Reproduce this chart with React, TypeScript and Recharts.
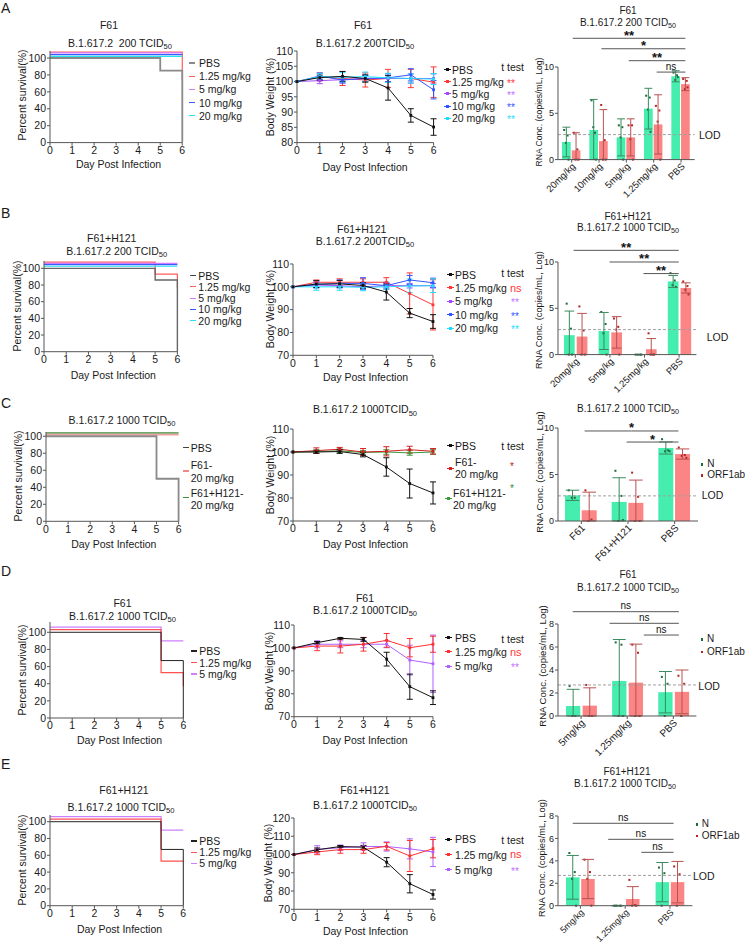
import React from 'react';
import { LineChart, Line, XAxis, YAxis, ErrorBar, BarChart, Bar, ReferenceLine } from 'recharts';

const FONT = '"Liberation Sans", Arial, Helvetica, sans-serif';

// ================= DATA =================
const days = [0, 1, 2, 3, 4, 5, 6];

// ---- Survival (Kaplan-Meier step points: [day, percent]) ----
const sA_pbs = [[0, 100], [5, 85], [6, 0]];
const sA_125 = [[0, 107], [6, 74]];
const sA_5 = [[0, 106], [6, 106]];
const sA_10 = [[0, 104], [6, 104]];
const sA_20 = [[0, 102], [6, 102]];

const sB_pbs = [[0, 100], [5, 86], [6, 0]];
const sB_125 = [[0, 107.5], [5, 93], [6, 76]];
const sB_5 = [[0, 106], [6, 106]];
const sB_10 = [[0, 104.5], [6, 104.5]];
const sB_20 = [[0, 102.5], [6, 102.5]];

const sC_pbs = [[0, 100], [5, 50], [6, 0]];
const sC_f61 = [[0, 102], [6, 102]];
const sC_fh = [[0, 104], [6, 104]];

const sD_pbs = [[0, 100], [5, 67], [6, 0]];
const sD_125 = [[0, 103], [5, 53], [6, 37]];
const sD_5 = [[0, 106], [5, 90], [6, 90]];

const sE_pbs = [[0, 100], [5, 67], [6, 0]];
const sE_125 = [[0, 103], [5, 53], [6, 53]];
const sE_5 = [[0, 106], [5, 90], [6, 90]];

// ---- Body weight (%) means and SD per day ----
const wA_pbs = [100, 101.3, 101.7, 101, 97.9, 88.9, 85.1];
const wA_pbs_e = [0, 0.8, 1.6, 1.2, 4, 2.2, 2.7];
const wA_125 = [100, 101.5, 101, 100.5, 101, 101, 99.8];
const wA_125_e = [0, 1.3, 2.3, 2.3, 3, 3, 5];
const wA_5 = [100, 100.3, 100.6, 101, 101, 101, 101];
const wA_5_e = [0, 1, 1, 1, 1, 1.5, 1.5];
const wA_10 = [100, 101.8, 100.5, 101, 101.2, 102.2, 97.3];
const wA_10_e = [0, 1, 1, 1, 1.3, 2, 3];
const wA_20 = [100, 101.6, 101.4, 101.6, 101.2, 101, 100.8];
const wA_20_e = [0, 1, 1.5, 1.5, 1.5, 1.5, 1.8];

const wB_pbs = [100, 101.2, 101.3, 100.6, 97.7, 88.5, 84.8];
const wB_pbs_e = [0, 1.5, 1.5, 1.2, 3.5, 2, 3];
const wB_125 = [100, 102, 102, 102, 102, 97.1, 92.1];
const wB_125_e = [0, 1, 1.5, 1.5, 2, 9, 11];
const wB_5 = [100, 100.8, 100.5, 100, 100.5, 100.5, 100.5];
const wB_5_e = [0, 1, 1, 1, 1, 1, 1];
const wB_10 = [100, 101, 101.5, 101.5, 100.5, 103, 101.8];
const wB_10_e = [0, 1.5, 1.5, 2.5, 1.5, 2, 2];
const wB_20 = [100, 100, 100, 99.8, 100, 100.4, 100.5];
const wB_20_e = [0, 1.5, 1.5, 1.5, 1, 3, 3];

const wC_pbs = [100, 100, 100.2, 98.9, 93.5, 86.3, 82.2];
const wC_pbs_e = [0, 0.5, 0.8, 1, 4, 6.3, 4.8];
const wC_f61 = [100, 100.6, 101.2, 100, 100.3, 101, 100.3];
const wC_f61_e = [0, 1.2, 0.8, 1.5, 2, 1.5, 1.2];
const wC_fh = [100, 100.2, 100.5, 99.8, 100, 99.6, 100];
const wC_fh_e = [0, 0.8, 0.8, 0.8, 1, 1, 1];

const wD_pbs = [100, 102.3, 104.2, 103.7, 95.1, 83.1, 78.3];
const wD_pbs_e = [0, 0.5, 0.3, 0.8, 3, 5.5, 3];
const wD_125 = [100, 100.8, 100.8, 101.6, 103.3, 100.1, 101.6];
const wD_125_e = [0, 2, 3, 3, 3, 4, 3.5];
const wD_5 = [100, 101.6, 101.6, 101.6, 101.6, 94.7, 93.1];
const wD_5_e = [0, 1.5, 1.5, 1.5, 1.5, 6.5, 12.5];

const wE_pbs = [100, 102.6, 104.4, 104, 95.8, 84, 78.1];
const wE_pbs_e = [0, 1, 0.5, 1, 2.5, 5, 2.5];
const wE_125 = [100, 101.4, 102.7, 102.7, 104.5, 99.2, 103.2];
const wE_125_e = [0, 1.5, 2, 2, 2, 8.5, 5];
const wE_5 = [100, 102.8, 103.7, 104.4, 104.4, 103.1, 101.4];
const wE_5_e = [0, 2, 1.5, 2, 2.5, 5.5, 8];

// ---- RNA concentration (log copies/mL): N and ORF1ab ----
const rA_cats = ['20mg/kg', '10mg/kg', '5mg/kg', '1.25mg/kg', 'PBS'];
const rA_n = [1.9, 3.2, 2.4, 5.5, 9.0];
const rA_ne = [1.6, 3.3, 2.0, 2.2, 0.6];
const rA_o = [1.0, 2.0, 2.4, 3.8, 8.15];
const rA_oe = [1.9, 3.4, 2.0, 3.2, 0.7];
const rA_np = [[3.2, 2.6, 1.8, 0], [6.4, 2.9, 3.5, 0], [3.7, 3.5, 2.4, 0], [6.9, 6.7, 5.4, 3.0], [9.4, 9.1, 8.6, 8.9]];
const rA_op = [[2.9, 1.1, 0, 0], [5.9, 2.1, 0, 0], [3.7, 3.7, 2.2, 0], [5.8, 5.3, 4.1, 0], [8.7, 8.5, 7.6, 7.8]];

const rB_cats = ['20mg/kg', '5mg/kg', '1.25mg/kg', 'PBS'];
const rB_n = [2.1, 2.55, 0, 7.9];
const rB_ne = [2.6, 2.0, 0, 0.65];
const rB_o = [1.95, 2.4, 0.58, 7.2];
const rB_oe = [2.5, 1.7, 1.15, 0.55];
const rB_np = [[5.5, 2.8, 0, 0], [4.6, 3.3, 2.3, 0], [0, 0, 0, 0], [8.8, 8.0, 7.5, 7.3]];
const rB_op = [[5.2, 2.6, 0, 0], [3.9, 3.0, 2.7, 0], [2.3, 0, 0, 0], [7.9, 7.4, 7.0, 6.5]];

const rC_cats = ['F61', 'F61+H121', 'PBS'];
const rC_n = [2.76, 2.05, 7.85];
const rC_ne = [0.55, 2.6, 0.65];
const rC_o = [1.15, 1.95, 7.2];
const rC_oe = [1.95, 2.45, 0.55];
const rC_np = [[3.3, 2.5, 2.5], [5.4, 2.7, 0, 0.1], [8.8, 7.6, 7.5, 7.5]];
const rC_op = [[3.3, 0.15, 0], [5.2, 2.6, 0, 0], [7.9, 7.1, 7.0, 6.8]];

const rD_cats = ['5mg/kg', '1.25mg/kg', 'PBS'];
const rD_n = [0.87, 3.05, 2.07];
const rD_ne = [1.45, 3.6, 1.8];
const rD_o = [0.9, 2.9, 2.1];
const rD_oe = [1.55, 3.35, 1.9];
const rD_np = [[2.6, 0, 0], [6.4, 6.2, 0, 0], [3.4, 2.8, 0]];
const rD_op = [[2.7, 0, 0], [6.2, 5.5, 0, 0], [3.5, 2.8, 0]];

const rE_cats = ['5mg/kg', '1.25mg/kg', 'PBS'];
const rE_n = [2.53, 0, 2.1];
const rE_ne = [1.95, 0, 1.75];
const rE_o = [2.38, 0.6, 2.1];
const rE_oe = [1.75, 1.1, 1.85];
const rE_np = [[4.7, 3.0, 2.4, 0], [0, 0, 0, 0, 0], [3.4, 2.9, 0]];
const rE_op = [[4.1, 3.0, 2.4, 0], [2.3, 0.05, 0, 0], [3.5, 2.8, 0]];

// significance brackets: [from (category units), to, y value, label]
const bA = [[0.54, 4.66, 13.1, '**'], [1.59, 4.66, 11.97, '*'], [2.59, 4.66, 10.68, '**'], [3.61, 4.66, 9.45, 'ns']];
const bB = [[0.45, 3.49, 11.26, '**'], [1.49, 3.49, 10.0, '**'], [2.47, 3.49, 8.75, '**']];
const bC = [[0.57, 2.58, 9.68, '*'], [1.47, 2.58, 8.49, '*']];
const bD = [[0.32, 2.62, 9.07, 'ns'], [1.12, 2.62, 8.06, 'ns'], [1.86, 2.62, 7.04, 'ns']];
const bE = [[0.33, 2.58, 7.35, 'ns'], [1.12, 2.58, 5.92, 'ns'], [1.86, 2.58, 4.76, 'ns']];

const LOD = 2.7;

// legend labels
const leg5 = ['PBS', '1.25 mg/kg', '5 mg/kg', '10 mg/kg', '20 mg/kg'];
const leg3 = ['PBS', '1.25 mg/kg', '5 mg/kg'];
const legRna = ['N', 'ORF1ab'];

// ================= STYLES =================
const AX = '#555';
const TXT = '#1a1a1a';
const GREY = '#8a8a8a';
const S_RED = '#ff5c5c';
const S_VIO = '#d27bff';
const S_BLU = '#3a5cff';
const S_CYA = '#27e3f0';
const W_RED = '#ff3636';
const W_PUR = '#a548ff';
const W_BLU = '#2f55ff';
const W_CYA = '#1edcff';
const GREEN = '#45eeae';
const SALMON = '#fb8585';
const N_ERR = '#3b8a5e';
const O_ERR = '#b85050';
const N_DOT = '#1d6b3a';
const O_DOT = '#b42424';

const tickStyle = { fontSize: 10.5, fill: TXT, fontFamily: FONT };

// ================= HELPERS =================
const Tx = ({ x, y, s = 10.5, c = TXT, a = 'm', r = 0, b = false, children }: any) => (
  <div
    style={{
      position: 'absolute',
      left: x,
      top: y,
      transform: `translate(${a === 'm' ? '-50%' : a === 'e' ? '-100%' : '0'}, -50%)${r ? ` rotate(${r}deg)` : ''}`,
      fontSize: s,
      color: c,
      fontFamily: FONT,
      whiteSpace: 'pre',
      lineHeight: 1,
      fontWeight: b ? 700 : 400,
    }}
  >
    {children}
  </div>
);

const Tc = ({ t }: any) => (
  <>
    {t}
    <span style={{ fontSize: '0.72em', position: 'relative', top: '0.3em' }}>50</span>
  </>
);

const Mark = ({ x, y, color, w = 6, sq = false }: any) => (
  <>
    <div style={{ position: 'absolute', left: x, top: y - 0.6, width: w, height: 1.2, background: color }} />
    {sq && <div style={{ position: 'absolute', left: x + w / 2 - 1.5, top: y - 1.5, width: 3, height: 3, background: color }} />}
  </>
);

const Legend = ({ x, tx, y0, dy, items, colors, sq = false, s = 10.5, w = 6 }: any) => (
  <>
    {items.map((lab: string, i: number) => (
      <React.Fragment key={i}>
        <Mark x={x} y={y0 + i * dy} color={colors[i]} sq={sq} w={w} />
        <Tx x={tx} y={y0 + i * dy} a="s" s={s}>
          {lab}
        </Tx>
      </React.Fragment>
    ))}
  </>
);

// ---------- Survival chart ----------
const SurvivalChart = ({ g, yMax, series }: any) => {
  const YW = 34, MT = 8, MR = 6, XH = 26;
  const pw = g.x1 - g.x0, ph = g.bottom - g.top;
  return (
    <div style={{ position: 'absolute', left: g.x0 - YW, top: g.top - MT }}>
      <LineChart width={YW + pw + MR} height={MT + ph + XH} margin={{ top: MT, right: MR, left: 0, bottom: 0 }}>
        <XAxis type="number" dataKey="x" domain={[0, 6]} ticks={days} interval={0} height={XH}
          tickSize={3} tickMargin={1} stroke={AX} tick={tickStyle} />
        <YAxis type="number" domain={[0, yMax]} ticks={[0, 20, 40, 60, 80, 100]} interval={0} width={YW}
          tickSize={3} tickMargin={1} stroke={AX} tick={tickStyle} />
        {series.map((s: any, i: number) => (
          <Line key={i} data={s.pts.map((p: number[]) => ({ x: p[0], y: p[1] }))} dataKey="y" type="stepAfter"
            stroke={s.color} strokeWidth={s.w} dot={false} isAnimationActive={false} />
        ))}
      </LineChart>
    </div>
  );
};

// ---------- Body weight chart ----------
const sqDot = (color: string) => (p: any) => {
  if (p.cx == null || p.cy == null) return <g key={'n' + p.index} />;
  return <rect key={'d' + p.index} x={p.cx - 1.4} y={p.cy - 1.4} width={2.8} height={2.8} fill={color} />;
};

const WeightChart = ({ g, domain, ticks, series }: any) => {
  const YW = 30, MT = 8, MR = 6, XH = 26;
  const pw = g.x1 - g.x0, ph = g.bottom - g.top;
  const rows = days.map((d, i) => {
    const r: any = { day: d };
    series.forEach((s: any, k: number) => {
      r['v' + k] = s.v[i];
      r['e' + k] = s.e[i];
    });
    return r;
  });
  return (
    <div style={{ position: 'absolute', left: g.x0 - YW, top: g.top - MT }}>
      <LineChart data={rows} width={YW + pw + MR} height={MT + ph + XH} margin={{ top: MT, right: MR, left: 0, bottom: 0 }}>
        <XAxis type="number" dataKey="day" domain={[0, 6]} ticks={days} interval={0} height={XH}
          tickSize={3} tickMargin={1} stroke={AX} tick={tickStyle} />
        <YAxis type="number" domain={domain} ticks={ticks} interval={0} width={YW}
          tickSize={3} tickMargin={1} stroke={AX} tick={tickStyle} />
        {series.map((s: any, k: number) => (
          <Line key={k} dataKey={'v' + k} stroke={s.color} strokeWidth={1} dot={sqDot(s.color)}
            activeDot={false} isAnimationActive={false}>
            <ErrorBar dataKey={'e' + k} width={3} stroke={s.color} strokeWidth={1} direction="y" isAnimationActive={false} />
          </Line>
        ))}
      </LineChart>
    </div>
  );
};

// ---------- RNA bar chart ----------
const OFF = [-0.25, 0.15, -0.05, 0.25, -0.15];
const makeShape = (key: string, dotColor: string, yMax: number) => (p: any) => {
  const { x, y, width, height, fill, payload, background } = p;
  const base = background ? background.y + background.height : y + height;
  const per = background ? background.height / yMax : p.value ? height / p.value : 0;
  const pts: number[] = (payload && payload[key]) || [];
  return (
    <g>
      <rect x={x} y={y} width={width} height={Math.max(0, height)} fill={fill} />
      {pts.map((v, i) => (
        <rect key={i} x={x + width / 2 + OFF[i % OFF.length] * width - 1} y={base - v * per - 1} width={2} height={2} fill={dotColor} />
      ))}
    </g>
  );
};

const RotTick = (p: any) => {
  const { x, y, payload, fs } = p;
  return (
    <g transform={`translate(${x + 2},${y + 1}) rotate(-45)`}>
      <text textAnchor="end" dy="0.35em" fontSize={fs} fill={TXT} fontFamily={FONT}>
        {payload.value}
      </text>
    </g>
  );
};

const RnaChart = ({ g, yMax, ticks, cats, n, ne, o, oe, np, op, barSize, barGap, fs }: any) => {
  const YW = 26, MT = 8, MR = 10, XH = 50;
  const pw = g.x1 - g.x0, ph = g.bottom - g.top;
  const rows = cats.map((c: string, i: number) => ({
    cat: c,
    n: n[i],
    ne: [Math.min(ne[i], n[i]), ne[i]],
    o: o[i],
    oe: [Math.min(oe[i], o[i]), oe[i]],
    np: np[i],
    op: op[i],
  }));
  const cap = Math.max(3, barSize * 0.45);
  return (
    <div style={{ position: 'absolute', left: g.x0 - YW, top: g.top - MT }}>
      <BarChart data={rows} width={YW + pw + MR} height={MT + ph + XH} margin={{ top: MT, right: MR, left: 0, bottom: 0 }}
        barSize={barSize} barGap={barGap}>
        <XAxis dataKey="cat" type="category" height={XH} tickSize={3} tickMargin={1} stroke={AX} interval={0}
          tick={<RotTick fs={fs} />} />
        <YAxis type="number" domain={[0, yMax]} ticks={ticks} interval={0} width={YW} tickSize={3} tickMargin={1}
          stroke={AX} tick={{ ...tickStyle, fontSize: 9 }} />
        <ReferenceLine y={LOD} stroke="#a0a0a0" strokeDasharray="3 2" strokeWidth={1} />
        <Bar dataKey="n" fill={GREEN} shape={makeShape('np', N_DOT, yMax)} isAnimationActive={false}>
          <ErrorBar dataKey="ne" width={cap} stroke={N_ERR} strokeWidth={1} isAnimationActive={false} />
        </Bar>
        <Bar dataKey="o" fill={SALMON} shape={makeShape('op', O_DOT, yMax)} isAnimationActive={false}>
          <ErrorBar dataKey="oe" width={cap} stroke={O_ERR} strokeWidth={1} isAnimationActive={false} />
        </Bar>
      </BarChart>
    </div>
  );
};

// significance brackets: a transparent overlay LineChart sharing the bar chart's value scale
const BracketOverlay = ({ g, yMax, nCats, brackets }: any) => {
  const pw = g.x1 - g.x0, ph = g.bottom - g.top;
  const extra = 60;
  const h = ph + extra;
  const yTop = (yMax * h) / ph;
  const lbl = (txt: string) => (p: any) => {
    if (p.index !== 1) return <g key={'l' + p.index} />;
    const star = txt !== 'ns';
    return (
      <text key={'l' + p.index} x={p.x} y={star ? p.y + 1.5 : p.y - 2.5} textAnchor="middle"
        fontSize={star ? 13 : 10} fontWeight={star ? 700 : 400} fill="#111" fontFamily={FONT}>
        {txt}
      </text>
    );
  };
  return (
    <div style={{ position: 'absolute', left: g.x0, top: g.bottom - h, pointerEvents: 'none' }}>
      <LineChart width={pw} height={h} margin={{ top: 0, right: 0, left: 0, bottom: 0 }}>
        <XAxis type="number" dataKey="u" domain={[0, nCats]} allowDataOverflow hide />
        <YAxis type="number" domain={[0, yTop]} allowDataOverflow hide />
        {brackets.map((b: any, i: number) => (
          <Line key={i} data={[{ u: b[0], y: b[2] }, { u: (b[0] + b[1]) / 2, y: b[2] }, { u: b[1], y: b[2] }]}
            dataKey="y" stroke="#555" strokeWidth={1} dot={false} activeDot={false}
            label={lbl(b[3])} isAnimationActive={false} />
        ))}
      </LineChart>
    </div>
  );
};

const RnaLegend = ({ dx, tx, y0, y1 }: any) => (
  <>
    <div style={{ position: 'absolute', left: dx - 1, top: y0 - 1, width: 2.5, height: 2.5, background: N_DOT }} />
    <Tx x={tx} y={y0} a="s" s={10}>{legRna[0]}</Tx>
    <div style={{ position: 'absolute', left: dx - 1, top: y1 - 1, width: 2.5, height: 2.5, background: O_DOT }} />
    <Tx x={tx} y={y1} a="s" s={10}>{legRna[1]}</Tx>
  </>
);

const TTest = ({ y, marks }: any) => (
  <>
    <Tx x={524} y={y} a="e">t test</Tx>
    {marks.map((m: any, i: number) => (
      <Tx key={i} x={m[0]} y={m[1] + (m[2] === 'ns' ? 0 : 2)} a="s" c={m[3]} s={m[2] === 'ns' ? 11 : 10}>
        {m[2]}
      </Tx>
    ))}
  </>
);

const RnaYLabel = ({ x, y, s }: any) => (
  <Tx x={x} y={y} r={-90} s={s}>RNA Conc. (copies/mL, Log)</Tx>
);

// ================= APP =================
export default function App() {
  const colS5 = [GREY, S_RED, S_VIO, S_BLU, S_CYA];
  const colW5 = ['#111', W_RED, W_PUR, W_BLU, W_CYA];
  const colS3 = ['#222', '#ff5050', '#cc80ff'];
  const colW3 = ['#111', '#ff3030', '#b060ff'];
  const gA = { x0: 558.3, x1: 695, top: 66.7, bottom: 159.3 };
  const gB = { x0: 558.3, x1: 696.7, top: 261.7, bottom: 354.3 };
  const gC = { x0: 558.3, x1: 698.3, top: 427.7, bottom: 520.7 };
  const gD = { x0: 558.3, x1: 696.7, top: 624, bottom: 716 };
  const gE = { x0: 558.3, x1: 692.7, top: 816, bottom: 905.7 };
  return (
    <div style={{ position: 'absolute', left: 0, top: 0, width: 745, height: 945, background: '#fff', overflow: 'hidden', fontFamily: FONT }}>
      {/* panel letters */}
      <Tx x={1} y={8} s={14} a="s">A</Tx>
      <Tx x={1} y={213} s={14} a="s">B</Tx>
      <Tx x={1} y={403} s={14} a="s">C</Tx>
      <Tx x={1} y={571} s={14} a="s">D</Tx>
      <Tx x={1} y={764} s={14} a="s">E</Tx>

      {/* ===== Row A ===== */}
      <Tx x={109} y={25}>F61</Tx>
      <Tx x={120} y={43}><Tc t={'B.1.617.2\u00a0\u00a0200 TCID'} /></Tx>
      <SurvivalChart g={{ x0: 50, x1: 182.3, top: 50.7, bottom: 142.3 }} yMax={108.3}
        series={[
          { pts: sA_125, color: S_RED, w: 1.2 },
          { pts: sA_5, color: S_VIO, w: 1.2 },
          { pts: sA_10, color: S_BLU, w: 1.2 },
          { pts: sA_20, color: S_CYA, w: 1.2 },
          { pts: sA_pbs, color: GREY, w: 1.8 },
        ]} />
      <Tx x={21.7} y={95} r={-90}>Percent survival(%)</Tx>
      <Tx x={118.5} y={164}>Day Post Infection</Tx>
      <Legend x={189} tx={199} y0={63} dy={13.2} items={leg5} colors={colS5} />

      <Tx x={363} y={25}>F61</Tx>
      <Tx x={365} y={43}><Tc t="B.1.617.2 200TCID" /></Tx>
      <WeightChart g={{ x0: 296.7, x1: 433.3, top: 50.7, bottom: 142.3 }} domain={[80, 110]} ticks={[80, 85, 90, 95, 100, 105, 110]}
        series={[
          { v: wA_125, e: wA_125_e, color: W_RED },
          { v: wA_5, e: wA_5_e, color: W_PUR },
          { v: wA_10, e: wA_10_e, color: W_BLU },
          { v: wA_20, e: wA_20_e, color: W_CYA },
          { v: wA_pbs, e: wA_pbs_e, color: '#111' },
        ]} />
      <Tx x={270} y={97} r={-90}>Body Weight (%)</Tx>
      <Tx x={365} y={166.7}>Day Post Infection</Tx>
      <Legend x={444} tx={452} y0={69.5} dy={12.2} items={leg5} colors={colW5} sq w={7} />
      <TTest y={66.7} marks={[[507, 81.7, '**', W_RED], [507, 93.9, '**', '#c070ff'], [507, 106.1, '**', W_BLU], [507, 118.3, '**', W_CYA]]} />

      <Tx x={628} y={11} s={10}>F61</Tx>
      <Tx x={628} y={23} s={10}><Tc t="B.1.617.2 200 TCID" /></Tx>
      <RnaChart g={gA} yMax={10} ticks={[0, 5, 10]}
        cats={rA_cats} n={rA_n} ne={rA_ne} o={rA_o} oe={rA_oe} np={rA_np} op={rA_op}
        barSize={8.7} barGap={1} fs={9.5} />
      <BracketOverlay g={gA} yMax={10} nCats={rA_cats.length} brackets={bA} />
      <RnaYLabel x={539} y={112} s={8.6} />
      <Tx x={699} y={135} a="s">LOD</Tx>

      {/* ===== Row B ===== */}
      <Tx x={111.7} y={238.3}>F61+H121</Tx>
      <Tx x={116.7} y={250.7}><Tc t="B.1.617.2 200 TCID" /></Tx>
      <SurvivalChart g={{ x0: 44.3, x1: 177.7, top: 261, bottom: 351.7 }} yMax={108.8}
        series={[
          { pts: sB_125, color: S_RED, w: 1.2 },
          { pts: sB_5, color: S_VIO, w: 1.2 },
          { pts: sB_10, color: S_BLU, w: 1.2 },
          { pts: sB_20, color: S_CYA, w: 1.2 },
          { pts: sB_pbs, color: '#666', w: 1.4 },
        ]} />
      <Tx x={16.7} y={306} r={-90}>Percent survival(%)</Tx>
      <Tx x={113.3} y={375}>Day Post Infection</Tx>
      <Legend x={190} tx={198.3} y0={275.5} dy={11.3} items={leg5} colors={['#444', S_RED, S_VIO, S_BLU, S_CYA]} />

      <Tx x={361.7} y={229.3}>F61+H121</Tx>
      <Tx x={365} y={241}><Tc t="B.1.617.2 200TCID" /></Tx>
      <WeightChart g={{ x0: 293.3, x1: 433.3, top: 263.7, bottom: 355 }} domain={[70, 110]} ticks={[70, 80, 90, 100, 110]}
        series={[
          { v: wB_125, e: wB_125_e, color: W_RED },
          { v: wB_5, e: wB_5_e, color: W_PUR },
          { v: wB_10, e: wB_10_e, color: W_BLU },
          { v: wB_20, e: wB_20_e, color: W_CYA },
          { v: wB_pbs, e: wB_pbs_e, color: '#111' },
        ]} />
      <Tx x={270} y={309} r={-90}>Body Weight (%)</Tx>
      <Tx x={365.5} y={377.3}>Day Post Infection</Tx>
      <Legend x={447} tx={455} y0={274.5} dy={13.4} items={leg5} colors={colW5} sq w={7} />
      <TTest y={273.3} marks={[[510, 287.7, 'ns', W_RED], [511, 301.3, '**', '#c070ff'], [511, 314.7, '**', W_BLU], [511, 328.1, '**', W_CYA]]} />

      <Tx x={628} y={216.7} s={10}>F61+H121</Tx>
      <Tx x={628} y={227.7} s={10}><Tc t="B.1.617.2 1000 TCID" /></Tx>
      <RnaChart g={gB} yMax={10} ticks={[0, 5, 10]}
        cats={rB_cats} n={rB_n} ne={rB_ne} o={rB_o} oe={rB_oe} np={rB_np} op={rB_op}
        barSize={10.7} barGap={2} fs={9.5} />
      <BracketOverlay g={gB} yMax={10} nCats={rB_cats.length} brackets={bB} />
      <RnaYLabel x={540} y={310} s={9.3} />
      <Tx x={706.7} y={336.7} a="s">LOD</Tx>

      {/* ===== Row C ===== */}
      <Tx x={122} y={420}><Tc t="B.1.617.2 1000 TCID" /></Tx>
      <SurvivalChart g={{ x0: 45.7, x1: 178.3, top: 431.7, bottom: 521 }} yMax={105}
        series={[
          { pts: sC_f61, color: '#f0a0a0', w: 2 },
          { pts: sC_fh, color: '#3f8f3f', w: 1.2 },
          { pts: sC_pbs, color: GREY, w: 1.8 },
        ]} />
      <Tx x={17.5} y={476} r={-90}>Percent survival(%)</Tx>
      <Tx x={113.8} y={544}>Day Post Infection</Tx>
      <Mark x={183.3} y={447.7} color="#444" />
      <Tx x={190.7} y={447.7} a="s">PBS</Tx>
      <Mark x={183.3} y={471} color="#e88" />
      <Tx x={190.7} y={465} a="s">F61-</Tx>
      <Tx x={190.7} y={477.7} a="s">20 mg/kg</Tx>
      <Mark x={183.3} y={497.7} color="#3f8f3f" />
      <Tx x={190.7} y={492.7} a="s">F61+H121-</Tx>
      <Tx x={190.7} y={505} a="s">20 mg/kg</Tx>

      <Tx x={365} y={409.3}><Tc t="B.1.617.2 1000TCID" /></Tx>
      <WeightChart g={{ x0: 293.3, x1: 433.3, top: 429, bottom: 521 }} domain={[70, 110]} ticks={[70, 80, 90, 100, 110]}
        series={[
          { v: wC_fh, e: wC_fh_e, color: '#3a9a3a' },
          { v: wC_f61, e: wC_f61_e, color: '#d42020' },
          { v: wC_pbs, e: wC_pbs_e, color: '#111' },
        ]} />
      <Tx x={270} y={475} r={-90}>Body Weight (%)</Tx>
      <Tx x={365.5} y={544}>Day Post Infection</Tx>
      <Mark x={447} y={445.7} color="#111" sq w={7} />
      <Tx x={455} y={445.7} a="s">PBS</Tx>
      <Mark x={446.7} y={468.3} color="#d42020" sq w={7} />
      <Tx x={455} y={461.7} a="s">F61-</Tx>
      <Tx x={455} y={474.3} a="s">20 mg/kg</Tx>
      <Mark x={445} y={498.3} color="#3a9a3a" sq w={7} />
      <Tx x={453} y={493.3} a="s">F61+H121-</Tx>
      <Tx x={453} y={505} a="s">20 mg/kg</Tx>
      <TTest y={445.7} marks={[[510, 465, '*', '#c02020'], [510, 487.3, '*', '#2e8b3e']]} />

      <Tx x={628} y={409.3} s={10}><Tc t="B.1.617.2 1000 TCID" /></Tx>
      <RnaChart g={gC} yMax={10} ticks={[0, 5, 10]}
        cats={rC_cats} n={rC_n} ne={rC_ne} o={rC_o} oe={rC_oe} np={rC_np} op={rC_op}
        barSize={15} barGap={1.7} fs={10} />
      <BracketOverlay g={gC} yMax={10} nCats={rC_cats.length} brackets={bC} />
      <RnaYLabel x={540} y={472} s={9.6} />
      <Tx x={701.7} y={495} a="s">LOD</Tx>
      <RnaLegend dx={701.7} tx={707.3} y0={464} y1={475} />

      {/* ===== Row D ===== */}
      <Tx x={122.5} y={603.3}>F61</Tx>
      <Tx x={122.5} y={615.7}><Tc t="B.1.617.2 1000 TCID" /></Tx>
      <SurvivalChart g={{ x0: 50, x1: 183.3, top: 621.7, bottom: 717.7 }} yMax={112}
        series={[
          { pts: sD_5, color: colS3[2], w: 1.2 },
          { pts: sD_125, color: colS3[1], w: 1.2 },
          { pts: sD_pbs, color: colS3[0], w: 1 },
        ]} />
      <Tx x={22} y={670} r={-90}>Percent survival(%)</Tx>
      <Tx x={119.5} y={740}>Day Post Infection</Tx>
      <Legend x={191} tx={199.3} y0={651} dy={11.5} items={leg3} colors={colS3} />

      <Tx x={365} y={597.7}>F61</Tx>
      <Tx x={365} y={610}><Tc t="B.1.617.2 1000TCID" /></Tx>
      <WeightChart g={{ x0: 294.3, x1: 433.3, top: 625, bottom: 716.7 }} domain={[70, 110]} ticks={[70, 80, 90, 100, 110]}
        series={[
          { v: wD_5, e: wD_5_e, color: colW3[2] },
          { v: wD_125, e: wD_125_e, color: colW3[1] },
          { v: wD_pbs, e: wD_pbs_e, color: colW3[0] },
        ]} />
      <Tx x={269} y={671} r={-90}>Body Weight (%)</Tx>
      <Tx x={365} y={740}>Day Post Infection</Tx>
      <Legend x={445} tx={455} y0={637.7} dy={14.2} items={leg3} colors={colW3} sq w={7} />
      <TTest y={639.3} marks={[[510, 651.7, 'ns', W_RED], [511, 666.1, '**', '#c070ff']]} />

      <Tx x={628} y={575} s={10}>F61</Tx>
      <Tx x={628} y={587.7} s={10}><Tc t="B.1.617.2 1000 TCID" /></Tx>
      <RnaChart g={gD} yMax={8} ticks={[0, 2, 4, 6, 8]}
        cats={rD_cats} n={rD_n} ne={rD_ne} o={rD_o} oe={rD_oe} np={rD_np} op={rD_op}
        barSize={14.3} barGap={2.3} fs={10} />
      <BracketOverlay g={gD} yMax={8} nCats={rD_cats.length} brackets={bD} />
      <RnaYLabel x={543} y={666} s={9.6} />
      <Tx x={698.3} y={685.7} a="s">LOD</Tx>
      <RnaLegend dx={701.7} tx={707} y0={639.3} y1={651.7} />

      {/* ===== Row E ===== */}
      <Tx x={124} y={790}>F61+H121</Tx>
      <Tx x={121} y={806.7}><Tc t="B.1.617.2 1000 TCID" /></Tx>
      <SurvivalChart g={{ x0: 50, x1: 183.3, top: 815, bottom: 905.7 }} yMax={108}
        series={[
          { pts: sE_5, color: colS3[2], w: 1.2 },
          { pts: sE_125, color: colS3[1], w: 1.2 },
          { pts: sE_pbs, color: colS3[0], w: 1 },
        ]} />
      <Tx x={22} y={860} r={-90}>Percent survival(%)</Tx>
      <Tx x={119.5} y={929}>Day Post Infection</Tx>
      <Legend x={191} tx={199.3} y0={841} dy={11.2} items={leg3} colors={colS3} />

      <Tx x={365} y={790}>F61+H121</Tx>
      <Tx x={365} y={805}><Tc t="B.1.617.2 1000TCID" /></Tx>
      <WeightChart g={{ x0: 294.3, x1: 433.3, top: 817.7, bottom: 909 }} domain={[70, 120]} ticks={[70, 80, 90, 100, 110, 120]}
        series={[
          { v: wE_5, e: wE_5_e, color: colW3[2] },
          { v: wE_125, e: wE_125_e, color: colW3[1] },
          { v: wE_pbs, e: wE_pbs_e, color: colW3[0] },
        ]} />
      <Tx x={268} y={863} r={-90}>Body Weight (%)</Tx>
      <Tx x={365.5} y={931}>Day Post Infection</Tx>
      <Legend x={445} tx={455} y0={839.3} dy={15.3} items={leg3} colors={colW3} sq w={7} />
      <TTest y={840} marks={[[510, 854, 'ns', W_RED], [511, 869.6, '**', '#c070ff']]} />

      <Tx x={627} y={771.7} s={10}>F61+H121</Tx>
      <Tx x={625} y={784.3} s={10}><Tc t="B.1.617.2 1000 TCID" /></Tx>
      <RnaChart g={gE} yMax={8} ticks={[0, 2, 4, 6, 8]}
        cats={rE_cats} n={rE_n} ne={rE_ne} o={rE_o} oe={rE_oe} np={rE_np} op={rE_op}
        barSize={13.5} barGap={1.7} fs={9} />
      <BracketOverlay g={gE} yMax={8} nCats={rE_cats.length} brackets={bE} />
      <RnaYLabel x={543} y={858} s={9.3} />
      <Tx x={693} y={875.7} a="s">LOD</Tx>
      <RnaLegend dx={696.7} tx={701.7} y0={824.3} y1={835.7} />
    </div>
  );
}
